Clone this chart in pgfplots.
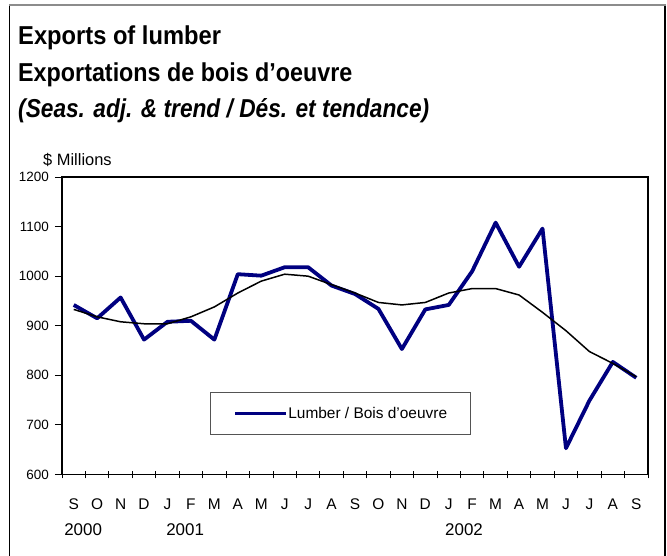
\documentclass[border=0pt]{standalone}
\usepackage{fontspec}
\setmainfont{Liberation Sans}
\usepackage{pgfplots}
\pgfplotsset{compat=1.18}
\definecolor{navyline}{RGB}{0,0,128}
\definecolor{framegray}{RGB}{140,140,140}
\begin{document}
\begin{tikzpicture}
\useasboundingbox (0,0) rectangle (667bp,556bp);
\draw[black, line width=1.3bp] (9.5bp,-3bp) -- (9.5bp,551bp);
\draw[black, line width=1.3bp] (665bp,-3bp) -- (665bp,551bp);
\draw[framegray, line width=1.3bp] (8.85bp,551bp) -- (665.65bp,551bp);
\node[anchor=base west, inner sep=0pt, font=\fontsize{26}{30}\selectfont\bfseries] at (18bp,511bp) {\scalebox{0.915}[1]{Exports of lumber}};
\node[anchor=base west, inner sep=0pt, font=\fontsize{26}{30}\selectfont\bfseries] at (18bp,474bp) {\scalebox{0.9}[1]{Exportations de bois d’oeuvre}};
\node[anchor=base west, inner sep=0pt, font=\fontsize{26}{30}\selectfont\bfseries\itshape] at (18bp,438bp) {\scalebox{0.876}[1]{(Seas. adj. \& trend / Dés. et tendance)}};
\node[anchor=base west, inner sep=0pt, font=\fontsize{16.5}{19}\selectfont] at (43bp,390bp) {\$ Millions};
\begin{axis}[
  at={(62bp,81.5bp)}, anchor=south west,
  width=586bp, height=297.5bp, scale only axis,
  xmin=-0.5, xmax=24.5, ymin=600, ymax=1200,
  xtick={-0.5,0.5,...,24.5},
  x tick label as interval,
  xticklabels={S,O,N,D,J,F,M,A,M,J,J,A,S,O,N,D,J,F,M,A,M,J,J,A,S},
  ytick={600,700,...,1200},
  xtick pos=bottom, ytick pos=left,
  tick align=center, major tick length=8bp,
  tick style={black, line width=0.9bp},
  y tick style={xshift=-3bp},
  axis line style={black, line width=1.3bp},
  /pgf/number format/assume math mode=true,
  /pgf/number format/1000 sep={},
  yticklabel style={font=\fontsize{13.5}{15}\selectfont, anchor=east, inner sep=0pt, xshift=-9bp},
  xticklabel style={font=\fontsize{15.5}{18}\selectfont, anchor=base, inner sep=0pt, yshift=-31bp},
  clip=false,
  legend style={at={(0.475,0.205)}, anchor=center, draw=framegray!60!black, line width=0.8bp,
    font=\fontsize{15.5}{18}\selectfont, inner xsep=23bp, inner ysep=15bp,
    nodes={inner sep=0pt}},
  legend image code/.code={\draw[#1] (0bp,0bp) -- (51bp,0bp);},
]
\addplot[navyline, line width=3.8bp, line join=round] coordinates {
(0,942) (1,915) (2,957) (3,872) (4,908) (5,910) (6,872) (7,1004) (8,1001) (9,1018)
(10,1018) (11,981) (12,964) (13,934) (14,853) (15,933) (16,942) (17,1010) (18,1108)
(19,1019) (20,1096) (21,653) (22,749) (23,827) (24,795)};
\addlegendentry{Lumber / Bois d’oeuvre}
\addplot[black, line width=1.5bp, forget plot] coordinates {
(0,933) (1,918) (2,908) (3,904) (4,904) (5,918) (6,938) (7,966) (8,990) (9,1004)
(10,1000) (11,983) (12,966) (13,947) (14,942) (15,947) (16,966) (17,975) (18,975)
(19,962) (20,927) (21,890) (22,848) (23,824) (24,797)};
\node[anchor=base west, inner sep=0pt, font=\fontsize{17}{20}\selectfont] at (axis cs:-0.41,600) [yshift=-60.5bp] {2000};
\node[anchor=base west, inner sep=0pt, font=\fontsize{17}{20}\selectfont] at (axis cs:3.94,600) [yshift=-60.5bp] {2001};
\node[anchor=base west, inner sep=0pt, font=\fontsize{17}{20}\selectfont] at (axis cs:15.84,600) [yshift=-60.5bp] {2002};
\end{axis}
\end{tikzpicture}
\end{document}
